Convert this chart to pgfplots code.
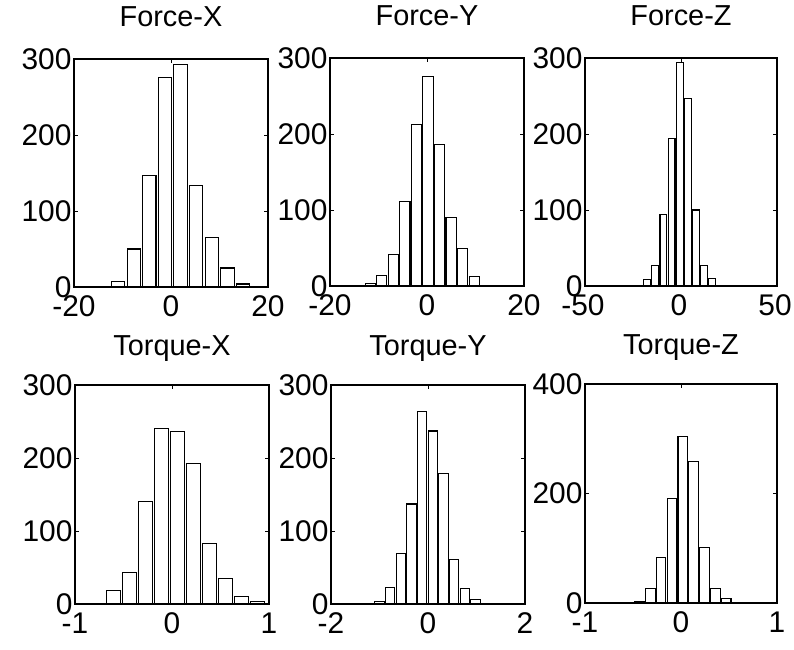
\documentclass[border=0pt]{standalone}
\usepackage{fontspec}
\setmainfont{Liberation Sans}
\usepackage{pgfplots}
\pgfplotsset{compat=1.18}

\pgfplotsset{
  histo/.style={
    scale only axis, width=194bp, height=228bp,
    anchor=south west,
    ybar, ymin=0,
    axis line style={line width=1.8bp},
    tick align=inside, major tick length=4bp,
    tick style={line width=0.8bp, black},
    tick label style={font=\fontsize{30}{33}\selectfont},
    xticklabel style={yshift=-5bp},
    yticklabel style={xshift=1bp},
    title style={font=\fontsize{29}{32}\selectfont, at={(0.5,1)}, anchor=base, yshift=27bp},
  },
  bars/.style={draw=black, fill=white, line width=1.1bp},
}

\begin{document}
\begin{tikzpicture}
\useasboundingbox (0,0) rectangle (794bp,650bp);

% Force-X
\begin{axis}[histo, at={(74bp,363bp)}, title={Force-X},
  xmin=-20, xmax=20, ymax=300, bar width=2.75,
  xtick={-20,0,20}, xticklabels={-20,0,20},
  ytick={0,100,200,300}, yticklabels={0,100,200,300}]
\addplot[bars] coordinates {(-10.9,7) (-7.68,50) (-4.46,147) (-1.24,276) (1.98,293)
  (5.2,133) (8.42,65) (11.64,25) (14.86,4) (18.08,1)};
\end{axis}

% Force-Y
\begin{axis}[histo, at={(330bp,364bp)}, title={Force-Y},
  xmin=-20, xmax=20, ymax=300, bar width=2.1,
  xtick={-20,0,20}, xticklabels={-20,0,20},
  ytick={0,100,200,300}, yticklabels={0,100,200,300}]
\addplot[bars] coordinates {(-11.7,3) (-9.32,14) (-6.94,41) (-4.56,111) (-2.18,213)
  (0.2,276) (2.58,186) (4.96,90) (7.34,49) (9.72,12)};
\end{axis}

% Force-Z
\begin{axis}[histo, at={(585bp,364bp)}, width=192bp, title={Force-Z},
  xticklabel style={xshift=-2bp},
  xmin=-50, xmax=50, ymax=300, bar width=3.6,
  xtick={-50,0,50}, xticklabels={-50,0,50},
  ytick={0,100,200,300}, yticklabels={0,100,200,300}]
\addplot[bars] coordinates {(-17.6,8) (-13.37,27) (-9.14,94) (-4.91,194) (-0.68,294)
  (3.55,247) (7.78,100) (12.01,27) (16.24,10)};
\end{axis}

% Torque-X
\begin{axis}[histo, at={(75bp,46bp)}, height=219bp, title={Torque-X},
  title style={yshift=-3bp},
  xmin=-1, xmax=1, ymax=300, bar width=0.14,
  xtick={-1,0,1}, xticklabels={-1,0,1},
  ytick={0,100,200,300}, yticklabels={0,100,200,300}]
\addplot[bars] coordinates {(-0.605,18) (-0.44,43) (-0.275,140) (-0.11,240) (0.055,236)
  (0.22,193) (0.385,83) (0.55,35) (0.715,10) (0.88,4)};
\end{axis}

% Torque-Y
\begin{axis}[histo, at={(331bp,46bp)}, height=219bp, title={Torque-Y},
  title style={yshift=-3bp},
  xmin=-2, xmax=2, ymax=300, bar width=0.195,
  xtick={-2,0,2}, xticklabels={-2,0,2},
  ytick={0,100,200,300}, yticklabels={0,100,200,300}]
\addplot[bars] coordinates {(-1.0,4) (-0.78,23) (-0.56,69) (-0.34,137) (-0.12,264)
  (0.10,237) (0.32,179) (0.54,61) (0.76,21) (0.98,6)};
\end{axis}

% Torque-Z
\begin{axis}[histo, at={(585bp,47bp)}, width=192bp, height=219bp, title={Torque-Z},
  title style={yshift=-3bp},
  xmin=-1, xmax=1, ymax=400, bar width=0.1,
  xtick={-1,0,1}, xticklabels={-1,0,1},
  ytick={0,200,400}, yticklabels={0,200,400}]
\addplot[bars] coordinates {(-0.546,1) (-0.433,2) (-0.32,26) (-0.207,83) (-0.094,191)
  (0.019,304) (0.132,258) (0.245,102) (0.358,26) (0.471,9)};
\end{axis}
\end{tikzpicture}
\end{document}
